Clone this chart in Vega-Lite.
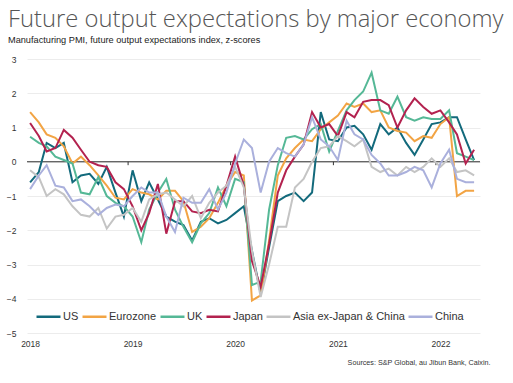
{
"$schema": "https://vega.github.io/schema/vega-lite/v6.json",
"width": 453, "height": 274,
"autosize": {"type": "none"},
"padding": {"left": 27, "top": 59, "right": 33, "bottom": 50},
"background": "white",
"config": {"font": "Liberation Sans", "view": {"stroke": null}},
"title": {"text": "Future output expectations by major economy", "subtitle": "Manufacturing PMI, future output expectations index, z-scores", "anchor": "start", "frame": "group", "dx": -19, "offset": 10, "fontSize": 23.8, "font": "Open Sans", "fontWeight": 300, "color": "#555555", "subtitleFont": "Liberation Sans", "subtitleFontSize": 9.2, "subtitleColor": "#222222", "subtitlePadding": 4},
"resolve": {"axis": {"x": "independent", "y": "independent"}},
"layer": [
{"data": {"values": [{"value": 0}]}, "mark": {"type": "rule", "color": "#333333", "strokeWidth": 1}, "encoding": {"y": {"field": "value", "type": "quantitative", "axis": null}}},
{"data": {"values": [{"date": "2018-12-16"}, {"date": "2019-12-16"}, {"date": "2020-12-16"}, {"date": "2021-12-16"}]}, "mark": {"type": "rule", "color": "#333333", "strokeWidth": 1}, "encoding": {"x": {"field": "date", "type": "temporal", "axis": null}, "y": {"datum": 0, "axis": null}, "y2": {"datum": -0.1}}},
{"data": {"values": [
{"date":"2018-01","series":"US","value":-0.6},{"date":"2018-02","series":"US","value":-0.3},{"date":"2018-03","series":"US","value":0.55},{"date":"2018-04","series":"US","value":0.4},{"date":"2018-05","series":"US","value":0.55},{"date":"2018-06","series":"US","value":-0.6},{"date":"2018-07","series":"US","value":-0.4},{"date":"2018-08","series":"US","value":-0.35},{"date":"2018-09","series":"US","value":-0.65},{"date":"2018-10","series":"US","value":-0.15},{"date":"2018-11","series":"US","value":-0.9},{"date":"2018-12","series":"US","value":-1.6},
{"date":"2019-01","series":"US","value":-0.25},{"date":"2019-02","series":"US","value":-1.15},{"date":"2019-03","series":"US","value":-0.6},{"date":"2019-04","series":"US","value":-1.1},{"date":"2019-05","series":"US","value":-1.6},{"date":"2019-06","series":"US","value":-1.75},{"date":"2019-07","series":"US","value":-1.85},{"date":"2019-08","series":"US","value":-2.3},{"date":"2019-09","series":"US","value":-1.75},{"date":"2019-10","series":"US","value":-1.65},{"date":"2019-11","series":"US","value":-1.8},{"date":"2019-12","series":"US","value":-1.7},
{"date":"2020-01","series":"US","value":-1.5},{"date":"2020-02","series":"US","value":-1.3},{"date":"2020-03","series":"US","value":-2.6},{"date":"2020-04","series":"US","value":-3.85},{"date":"2020-05","series":"US","value":-2.5},{"date":"2020-06","series":"US","value":-1.15},{"date":"2020-07","series":"US","value":-1.0},{"date":"2020-08","series":"US","value":-0.9},{"date":"2020-09","series":"US","value":-1.15},{"date":"2020-10","series":"US","value":-0.9},{"date":"2020-11","series":"US","value":1.45},{"date":"2020-12","series":"US","value":0.65},
{"date":"2021-01","series":"US","value":0.6},{"date":"2021-02","series":"US","value":1.0},{"date":"2021-03","series":"US","value":1.05},{"date":"2021-04","series":"US","value":0.8},{"date":"2021-05","series":"US","value":0.35},{"date":"2021-06","series":"US","value":1.1},{"date":"2021-07","series":"US","value":0.8},{"date":"2021-08","series":"US","value":1.0},{"date":"2021-09","series":"US","value":0.55},{"date":"2021-10","series":"US","value":0.2},{"date":"2021-11","series":"US","value":0.65},{"date":"2021-12","series":"US","value":1.1},
{"date":"2022-01","series":"US","value":1.15},{"date":"2022-02","series":"US","value":1.3},{"date":"2022-03","series":"US","value":1.3},{"date":"2022-04","series":"US","value":0.65},{"date":"2022-05","series":"US","value":0.05},
{"date":"2018-01","series":"Eurozone","value":1.45},{"date":"2018-02","series":"Eurozone","value":1.15},{"date":"2018-03","series":"Eurozone","value":0.8},{"date":"2018-04","series":"Eurozone","value":0.7},{"date":"2018-05","series":"Eurozone","value":0.45},{"date":"2018-06","series":"Eurozone","value":-0.05},{"date":"2018-07","series":"Eurozone","value":0.15},{"date":"2018-08","series":"Eurozone","value":-0.1},{"date":"2018-09","series":"Eurozone","value":-0.4},{"date":"2018-10","series":"Eurozone","value":-0.7},{"date":"2018-11","series":"Eurozone","value":-1.05},{"date":"2018-12","series":"Eurozone","value":-1.1},
{"date":"2019-01","series":"Eurozone","value":-0.8},{"date":"2019-02","series":"Eurozone","value":-0.9},{"date":"2019-03","series":"Eurozone","value":-0.95},{"date":"2019-04","series":"Eurozone","value":-1.1},{"date":"2019-05","series":"Eurozone","value":-0.85},{"date":"2019-06","series":"Eurozone","value":-0.85},{"date":"2019-07","series":"Eurozone","value":-1.15},{"date":"2019-08","series":"Eurozone","value":-2.05},{"date":"2019-09","series":"Eurozone","value":-1.9},{"date":"2019-10","series":"Eurozone","value":-1.65},{"date":"2019-11","series":"Eurozone","value":-1.2},{"date":"2019-12","series":"Eurozone","value":-0.7},
{"date":"2020-01","series":"Eurozone","value":-0.3},{"date":"2020-02","series":"Eurozone","value":-0.4},{"date":"2020-03","series":"Eurozone","value":-4.05},{"date":"2020-04","series":"Eurozone","value":-3.9},{"date":"2020-05","series":"Eurozone","value":-2.3},{"date":"2020-06","series":"Eurozone","value":-0.4},{"date":"2020-07","series":"Eurozone","value":0.1},{"date":"2020-08","series":"Eurozone","value":0.4},{"date":"2020-09","series":"Eurozone","value":0.65},{"date":"2020-10","series":"Eurozone","value":0.6},{"date":"2020-11","series":"Eurozone","value":0.95},{"date":"2020-12","series":"Eurozone","value":1.15},
{"date":"2021-01","series":"Eurozone","value":1.35},{"date":"2021-02","series":"Eurozone","value":1.7},{"date":"2021-03","series":"Eurozone","value":1.6},{"date":"2021-04","series":"Eurozone","value":1.7},{"date":"2021-05","series":"Eurozone","value":1.45},{"date":"2021-06","series":"Eurozone","value":1.5},{"date":"2021-07","series":"Eurozone","value":1.0},{"date":"2021-08","series":"Eurozone","value":0.9},{"date":"2021-09","series":"Eurozone","value":0.85},{"date":"2021-10","series":"Eurozone","value":0.6},{"date":"2021-11","series":"Eurozone","value":0.75},{"date":"2021-12","series":"Eurozone","value":0.7},
{"date":"2022-01","series":"Eurozone","value":1.1},{"date":"2022-02","series":"Eurozone","value":1.3},{"date":"2022-03","series":"Eurozone","value":-1.0},{"date":"2022-04","series":"Eurozone","value":-0.85},{"date":"2022-05","series":"Eurozone","value":-0.85},
{"date":"2018-01","series":"UK","value":0.73},{"date":"2018-02","series":"UK","value":0.55},{"date":"2018-03","series":"UK","value":0.45},{"date":"2018-04","series":"UK","value":0.15},{"date":"2018-05","series":"UK","value":0.05},{"date":"2018-06","series":"UK","value":-0.05},{"date":"2018-07","series":"UK","value":-0.9},{"date":"2018-08","series":"UK","value":-0.95},{"date":"2018-09","series":"UK","value":-0.45},{"date":"2018-10","series":"UK","value":-1.0},{"date":"2018-11","series":"UK","value":-1.2},{"date":"2018-12","series":"UK","value":-1.3},
{"date":"2019-01","series":"UK","value":-1.6},{"date":"2019-02","series":"UK","value":-2.35},{"date":"2019-03","series":"UK","value":-1.4},{"date":"2019-04","series":"UK","value":-0.9},{"date":"2019-05","series":"UK","value":-0.5},{"date":"2019-06","series":"UK","value":-1.4},{"date":"2019-07","series":"UK","value":-1.9},{"date":"2019-08","series":"UK","value":-2.35},{"date":"2019-09","series":"UK","value":-1.8},{"date":"2019-10","series":"UK","value":-1.5},{"date":"2019-11","series":"UK","value":-0.75},{"date":"2019-12","series":"UK","value":-1.3},
{"date":"2020-01","series":"UK","value":-0.5},{"date":"2020-02","series":"UK","value":-0.6},{"date":"2020-03","series":"UK","value":-3.6},{"date":"2020-04","series":"UK","value":-3.5},{"date":"2020-05","series":"UK","value":-1.4},{"date":"2020-06","series":"UK","value":-0.1},{"date":"2020-07","series":"UK","value":0.7},{"date":"2020-08","series":"UK","value":0.75},{"date":"2020-09","series":"UK","value":0.65},{"date":"2020-10","series":"UK","value":0.95},{"date":"2020-11","series":"UK","value":1.1},{"date":"2020-12","series":"UK","value":0.3},
{"date":"2021-01","series":"UK","value":0.9},{"date":"2021-02","series":"UK","value":1.5},{"date":"2021-03","series":"UK","value":1.8},{"date":"2021-04","series":"UK","value":2.05},{"date":"2021-05","series":"UK","value":2.6},{"date":"2021-06","series":"UK","value":1.5},{"date":"2021-07","series":"UK","value":1.4},{"date":"2021-08","series":"UK","value":1.9},{"date":"2021-09","series":"UK","value":1.3},{"date":"2021-10","series":"UK","value":1.2},{"date":"2021-11","series":"UK","value":1.3},{"date":"2021-12","series":"UK","value":1.25},
{"date":"2022-01","series":"UK","value":1.25},{"date":"2022-02","series":"UK","value":1.5},{"date":"2022-03","series":"UK","value":0.25},{"date":"2022-04","series":"UK","value":0.15},{"date":"2022-05","series":"UK","value":0.05},
{"date":"2018-01","series":"Japan","value":1.13},{"date":"2018-02","series":"Japan","value":0.75},{"date":"2018-03","series":"Japan","value":0.3},{"date":"2018-04","series":"Japan","value":0.4},{"date":"2018-05","series":"Japan","value":0.93},{"date":"2018-06","series":"Japan","value":0.7},{"date":"2018-07","series":"Japan","value":0.35},{"date":"2018-08","series":"Japan","value":0.0},{"date":"2018-09","series":"Japan","value":-0.1},{"date":"2018-10","series":"Japan","value":-0.15},{"date":"2018-11","series":"Japan","value":-0.6},{"date":"2018-12","series":"Japan","value":-0.8},
{"date":"2019-01","series":"Japan","value":-1.3},{"date":"2019-02","series":"Japan","value":-2.0},{"date":"2019-03","series":"Japan","value":-1.5},{"date":"2019-04","series":"Japan","value":-0.65},{"date":"2019-05","series":"Japan","value":-2.1},{"date":"2019-06","series":"Japan","value":-1.15},{"date":"2019-07","series":"Japan","value":-1.15},{"date":"2019-08","series":"Japan","value":-1.45},{"date":"2019-09","series":"Japan","value":-1.5},{"date":"2019-10","series":"Japan","value":-1.4},{"date":"2019-11","series":"Japan","value":-1.45},{"date":"2019-12","series":"Japan","value":-0.7},
{"date":"2020-01","series":"Japan","value":0.15},{"date":"2020-02","series":"Japan","value":-0.7},{"date":"2020-03","series":"Japan","value":-2.9},{"date":"2020-04","series":"Japan","value":-3.65},{"date":"2020-05","series":"Japan","value":-2.4},{"date":"2020-06","series":"Japan","value":-0.9},{"date":"2020-07","series":"Japan","value":-0.25},{"date":"2020-08","series":"Japan","value":0.15},{"date":"2020-09","series":"Japan","value":0.5},{"date":"2020-10","series":"Japan","value":1.45},{"date":"2020-11","series":"Japan","value":1.0},{"date":"2020-12","series":"Japan","value":1.1},
{"date":"2021-01","series":"Japan","value":0.75},{"date":"2021-02","series":"Japan","value":1.45},{"date":"2021-03","series":"Japan","value":1.3},{"date":"2021-04","series":"Japan","value":1.75},{"date":"2021-05","series":"Japan","value":1.8},{"date":"2021-06","series":"Japan","value":1.8},{"date":"2021-07","series":"Japan","value":1.65},{"date":"2021-08","series":"Japan","value":1.0},{"date":"2021-09","series":"Japan","value":1.5},{"date":"2021-10","series":"Japan","value":1.85},{"date":"2021-11","series":"Japan","value":1.6},{"date":"2021-12","series":"Japan","value":1.4},
{"date":"2022-01","series":"Japan","value":1.5},{"date":"2022-02","series":"Japan","value":1.15},{"date":"2022-03","series":"Japan","value":0.8},{"date":"2022-04","series":"Japan","value":-0.05},{"date":"2022-05","series":"Japan","value":0.35},
{"date":"2018-01","series":"Asia ex-Japan & China","value":-0.25},{"date":"2018-02","series":"Asia ex-Japan & China","value":-0.45},{"date":"2018-03","series":"Asia ex-Japan & China","value":-1.0},{"date":"2018-04","series":"Asia ex-Japan & China","value":-0.8},{"date":"2018-05","series":"Asia ex-Japan & China","value":-0.95},{"date":"2018-06","series":"Asia ex-Japan & China","value":-1.3},{"date":"2018-07","series":"Asia ex-Japan & China","value":-1.55},{"date":"2018-08","series":"Asia ex-Japan & China","value":-1.6},{"date":"2018-09","series":"Asia ex-Japan & China","value":-1.35},{"date":"2018-10","series":"Asia ex-Japan & China","value":-1.95},{"date":"2018-11","series":"Asia ex-Japan & China","value":-1.6},{"date":"2018-12","series":"Asia ex-Japan & China","value":-1.55},
{"date":"2019-01","series":"Asia ex-Japan & China","value":-1.35},{"date":"2019-02","series":"Asia ex-Japan & China","value":-1.75},{"date":"2019-03","series":"Asia ex-Japan & China","value":-1.1},{"date":"2019-04","series":"Asia ex-Japan & China","value":-0.95},{"date":"2019-05","series":"Asia ex-Japan & China","value":-0.9},{"date":"2019-06","series":"Asia ex-Japan & China","value":-1.1},{"date":"2019-07","series":"Asia ex-Japan & China","value":-1.3},{"date":"2019-08","series":"Asia ex-Japan & China","value":-1.0},{"date":"2019-09","series":"Asia ex-Japan & China","value":-1.65},{"date":"2019-10","series":"Asia ex-Japan & China","value":-1.2},{"date":"2019-11","series":"Asia ex-Japan & China","value":-0.9},{"date":"2019-12","series":"Asia ex-Japan & China","value":-0.7},
{"date":"2020-01","series":"Asia ex-Japan & China","value":-0.15},{"date":"2020-02","series":"Asia ex-Japan & China","value":-0.75},{"date":"2020-03","series":"Asia ex-Japan & China","value":-2.6},{"date":"2020-04","series":"Asia ex-Japan & China","value":-3.95},{"date":"2020-05","series":"Asia ex-Japan & China","value":-3.0},{"date":"2020-06","series":"Asia ex-Japan & China","value":-1.9},{"date":"2020-07","series":"Asia ex-Japan & China","value":-1.9},{"date":"2020-08","series":"Asia ex-Japan & China","value":-0.75},{"date":"2020-09","series":"Asia ex-Japan & China","value":-0.5},{"date":"2020-10","series":"Asia ex-Japan & China","value":0.0},{"date":"2020-11","series":"Asia ex-Japan & China","value":0.4},{"date":"2020-12","series":"Asia ex-Japan & China","value":0.45},
{"date":"2021-01","series":"Asia ex-Japan & China","value":0.75},{"date":"2021-02","series":"Asia ex-Japan & China","value":0.6},{"date":"2021-03","series":"Asia ex-Japan & China","value":0.45},{"date":"2021-04","series":"Asia ex-Japan & China","value":0.65},{"date":"2021-05","series":"Asia ex-Japan & China","value":-0.15},{"date":"2021-06","series":"Asia ex-Japan & China","value":-0.3},{"date":"2021-07","series":"Asia ex-Japan & China","value":-0.2},{"date":"2021-08","series":"Asia ex-Japan & China","value":-0.4},{"date":"2021-09","series":"Asia ex-Japan & China","value":-0.15},{"date":"2021-10","series":"Asia ex-Japan & China","value":-0.3},{"date":"2021-11","series":"Asia ex-Japan & China","value":-0.15},{"date":"2021-12","series":"Asia ex-Japan & China","value":0.1},
{"date":"2022-01","series":"Asia ex-Japan & China","value":-0.15},{"date":"2022-02","series":"Asia ex-Japan & China","value":0.1},{"date":"2022-03","series":"Asia ex-Japan & China","value":-0.3},{"date":"2022-04","series":"Asia ex-Japan & China","value":-0.25},{"date":"2022-05","series":"Asia ex-Japan & China","value":-0.4},
{"date":"2018-01","series":"China","value":-0.8},{"date":"2018-02","series":"China","value":-0.4},{"date":"2018-03","series":"China","value":-0.1},{"date":"2018-04","series":"China","value":-0.7},{"date":"2018-05","series":"China","value":-0.75},{"date":"2018-06","series":"China","value":-1.15},{"date":"2018-07","series":"China","value":-1.1},{"date":"2018-08","series":"China","value":-1.3},{"date":"2018-09","series":"China","value":-1.55},{"date":"2018-10","series":"China","value":-1.35},{"date":"2018-11","series":"China","value":-1.25},{"date":"2018-12","series":"China","value":-1.3},
{"date":"2019-01","series":"China","value":-1.0},{"date":"2019-02","series":"China","value":-0.75},{"date":"2019-03","series":"China","value":-0.9},{"date":"2019-04","series":"China","value":-0.9},{"date":"2019-05","series":"China","value":-1.6},{"date":"2019-06","series":"China","value":-2.05},{"date":"2019-07","series":"China","value":-1.05},{"date":"2019-08","series":"China","value":-1.2},{"date":"2019-09","series":"China","value":-1.2},{"date":"2019-10","series":"China","value":-0.8},{"date":"2019-11","series":"China","value":-1.4},{"date":"2019-12","series":"China","value":-0.9},
{"date":"2020-01","series":"China","value":-0.05},{"date":"2020-02","series":"China","value":0.65},{"date":"2020-03","series":"China","value":0.4},{"date":"2020-04","series":"China","value":-0.9},{"date":"2020-05","series":"China","value":0.0},{"date":"2020-06","series":"China","value":0.4},{"date":"2020-07","series":"China","value":0.25},{"date":"2020-08","series":"China","value":0.15},{"date":"2020-09","series":"China","value":0.5},{"date":"2020-10","series":"China","value":1.3},{"date":"2020-11","series":"China","value":0.65},{"date":"2020-12","series":"China","value":0.45},
{"date":"2021-01","series":"China","value":0.05},{"date":"2021-02","series":"China","value":1.2},{"date":"2021-03","series":"China","value":0.8},{"date":"2021-04","series":"China","value":0.65},{"date":"2021-05","series":"China","value":0.2},{"date":"2021-06","series":"China","value":-0.05},{"date":"2021-07","series":"China","value":-0.4},{"date":"2021-08","series":"China","value":-0.4},{"date":"2021-09","series":"China","value":-0.3},{"date":"2021-10","series":"China","value":-0.15},{"date":"2021-11","series":"China","value":-0.25},{"date":"2021-12","series":"China","value":-0.75},
{"date":"2022-01","series":"China","value":-0.05},{"date":"2022-02","series":"China","value":0.35},{"date":"2022-03","series":"China","value":-0.5},{"date":"2022-04","series":"China","value":-0.6},{"date":"2022-05","series":"China","value":-0.6}
]},
"mark": {"type": "line", "strokeWidth": 2},
"encoding": {
"x": {"field": "date", "type": "temporal", "scale": {"type": "utc", "domain": [{"year": 2017, "month": 12, "date": 21, "utc": true}, {"year": 2022, "month": 5, "date": 22, "utc": true}]},
 "axis": {"values": [{"year": 2018, "month": 1, "date": 1, "utc": true}, {"year": 2019, "month": 1, "date": 1, "utc": true}, {"year": 2020, "month": 1, "date": 1, "utc": true}, {"year": 2021, "month": 1, "date": 1, "utc": true}, {"year": 2022, "month": 1, "date": 1, "utc": true}], "format": "%Y", "labelAngle": 0, "domain": false, "ticks": false, "grid": false, "labelFontSize": 8.5, "labelColor": "#333333", "labelPadding": 6, "title": "Sources: S&P Global, au Jibun Bank, Caixin.", "titleFontSize": 7.2, "titleFontWeight": "normal", "titleColor": "#333333", "titleAnchor": "end", "titleAlign": "right", "titleX": 463, "titlePadding": 11}},
"y": {"field": "value", "type": "quantitative", "scale": {"domain": [-5, 3], "nice": false}, "axis": {"values": [-5, -4, -3, -2, -1, 0, 1, 2, 3], "title": null, "domain": false, "ticks": false, "grid": true, "gridColor": "#ececec", "gridWidth": 1, "labelFontSize": 8.5, "labelColor": "#333333", "labelPadding": 11}},
"color": {"field": "series", "type": "nominal", "scale": {"domain": ["US", "Eurozone", "UK", "Japan", "Asia ex-Japan & China", "China"], "range": ["#136a7c", "#f2a444", "#55b896", "#b3224f", "#c4c4c4", "#aab0dc"]},
 "legend": {"orient": "none", "legendX": 8, "legendY": 244, "direction": "horizontal", "title": null, "symbolType": "stroke", "symbolSize": 576, "symbolStrokeWidth": 2.5, "labelFontSize": 11, "labelColor": "#333333", "labelOffset": 1, "columnPadding": -2, "labelLimit": 200}}
}}
]
}
